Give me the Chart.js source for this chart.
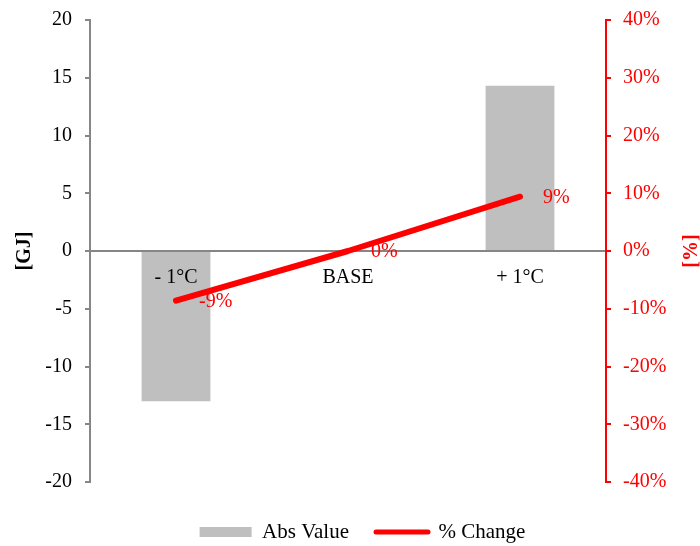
<!DOCTYPE html>
<html>
<head>
<meta charset="utf-8">
<script src="https://cdn.jsdelivr.net/npm/chart.js@4/dist/chart.umd.min.js"></script>
<style>
  html, body { margin: 0; padding: 0; background: #ffffff; }
  canvas { display: block; }
</style>
</head>
<body>
<canvas id="chart" width="700" height="546"></canvas>
<script>
// Scenario categories and results
const categories = ['- 1°C', 'BASE', '+ 1°C'];
const absValue = [-13.0, 0, 14.3];      // [GJ]
const pctChange = [-8.6, 0, 9.4];       // [%]
const seriesNames = ['Abs Value', '% Change'];

// Axis ranges
const gjAxis = { min: -20, max: 20, step: 5 };
const pctAxis = { min: -40, max: 40, step: 10 };
const axisTitles = { left: '[GJ]', right: '[%]' };

const SERIF = "'Liberation Serif', 'Times New Roman', serif";
const GREY_BAR = '#BFBFBF';
const AXIS_GREY = '#868686';
const RED = '#FF0000';

// Value labels beside the line points plus the rotated axis titles
const annotate = {
  id: 'annotate',
  afterDatasetsDraw(chart) {
    const ctx = chart.ctx;
    const meta = chart.getDatasetMeta(1);
    ctx.save();
    ctx.font = '20px ' + SERIF;
    ctx.fillStyle = RED;
    ctx.textAlign = 'left';
    ctx.textBaseline = 'middle';
    meta.data.forEach((pt, i) => {
      const v = Math.round(pctChange[i]);
      ctx.fillText((v === 0 ? 0 : v) + '%', pt.x + 23, pt.y + 1);
    });
    ctx.restore();
  },
  afterDraw(chart) {
    const ctx = chart.ctx;
    const a = chart.chartArea;
    const midY = (a.top + a.bottom) / 2;
    const drawTitle = (text, x, color) => {
      ctx.save();
      ctx.translate(x, midY);
      ctx.rotate(-Math.PI / 2);
      ctx.font = 'bold 20px ' + SERIF;
      ctx.fillStyle = color;
      ctx.textAlign = 'center';
      ctx.textBaseline = 'middle';
      ctx.fillText(text, 0, 0);
      ctx.restore();
    };
    drawTitle(axisTitles.left, 25, '#000000');
    drawTitle(axisTitles.right, 692, RED);
  }
};

// Fixed side widths; tick labels may overhang the plot's top and bottom
const fixWidth = w => scale => {
  scale.width = w;
  scale.paddingTop = 0;
  scale.paddingBottom = 0;
};

new Chart(document.getElementById('chart'), {
  type: 'bar',
  data: {
    labels: categories,
    datasets: [
      {
        type: 'bar',
        label: seriesNames[0],
        data: absValue,
        backgroundColor: GREY_BAR,
        borderWidth: 0,
        barPercentage: 0.4,
        categoryPercentage: 1.0,
        yAxisID: 'y',
        order: 1
      },
      {
        type: 'line',
        label: seriesNames[1],
        data: pctChange,
        borderColor: RED,
        backgroundColor: RED,
        borderWidth: 6,
        borderCapStyle: 'round',
        borderJoinStyle: 'round',
        pointRadius: 0,
        tension: 0,
        fill: false,
        yAxisID: 'y1',
        order: 0
      }
    ]
  },
  options: {
    responsive: false,
    animation: false,
    layout: { padding: { left: 25, right: 0, top: 20, bottom: 0 } },
    plugins: {
      tooltip: { enabled: false },
      legend: {
        position: 'bottom',
        maxHeight: 64,
        title: { display: true, text: '', font: { size: 10, lineHeight: 1.25 }, padding: 0 },
        labels: {
          usePointStyle: true,
          pointStyleWidth: 52,
          boxHeight: 10,
          padding: 27,
          color: '#000000',
          font: { family: SERIF, size: 21 },
          generateLabels() {
            return [
              { text: seriesNames[0], fillStyle: GREY_BAR, strokeStyle: GREY_BAR, lineWidth: 0,
                pointStyle: 'rect', fontColor: '#000000', datasetIndex: 0, hidden: false },
              { text: seriesNames[1], fillStyle: RED, strokeStyle: RED, lineWidth: 5, lineCap: 'round',
                pointStyle: 'line', fontColor: '#000000', datasetIndex: 1, hidden: false }
            ];
          }
        }
      }
    },
    scales: {
      x: {
        type: 'category',
        position: { y: 0 },
        offset: true,
        grid: { display: false, drawTicks: false },
        border: { display: true, color: AXIS_GREY, width: 2 },
        ticks: { z: 1, color: '#000000', font: { family: SERIF, size: 20 }, padding: 15, maxRotation: 0 }
      },
      y: {
        position: 'left',
        min: gjAxis.min,
        max: gjAxis.max,
        ticks: { stepSize: gjAxis.step, color: '#000000', font: { family: SERIF, size: 20 }, padding: 13 },
        grid: { drawOnChartArea: false, drawTicks: true, tickLength: 5, color: AXIS_GREY, lineWidth: 2 },
        border: { display: true, color: AXIS_GREY, width: 2 },
        afterFit: fixWidth(65)
      },
      y1: {
        position: 'right',
        min: pctAxis.min,
        max: pctAxis.max,
        ticks: {
          stepSize: pctAxis.step, color: RED, font: { family: SERIF, size: 20 }, padding: 12,
          callback: v => v + '%'
        },
        grid: { drawOnChartArea: false, drawTicks: true, tickLength: 5, color: RED, lineWidth: 2 },
        border: { display: true, color: RED, width: 2 },
        afterFit: fixWidth(94)
      }
    }
  },
  plugins: [annotate]
});
</script>
</body>
</html>
